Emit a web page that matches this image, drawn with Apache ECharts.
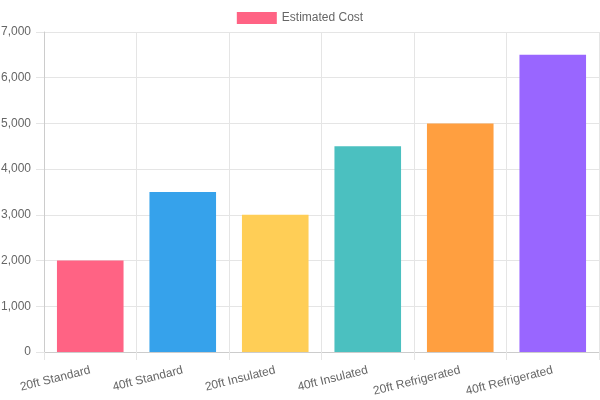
<!DOCTYPE html>
<html>
<head>
<meta charset="utf-8">
<script src="https://cdn.jsdelivr.net/npm/echarts@6/dist/echarts.min.js"></script>
<style>
  html, body { margin: 0; padding: 0; background: #fff; }
  #chart { width: 600px; height: 400px; }
</style>
</head>
<body>
<div id="chart"></div>
<script>
const categories = ['20ft Standard', '40ft Standard', '20ft Insulated', '40ft Insulated', '20ft Refrigerated', '40ft Refrigerated'];
const costValues = [2000, 3500, 3000, 4500, 5000, 6500];
const barColors = ['#ff6384', '#36a2eb', '#ffce56', '#4bc0c0', '#ff9f40', '#9966ff'];
const seriesName = 'Estimated Cost';

const font = '"Liberation Sans", Arial, sans-serif';
const gridColor = '#e5e5e5';

const chart = echarts.init(document.getElementById('chart'));

chart.setOption({
    animation: false,
    textStyle: { fontFamily: font },
    legend: {
        top: 7,
        left: 'center',
        icon: 'rect',
        itemWidth: 40,
        itemHeight: 12,
        itemGap: 10,
        textStyle: { color: '#666', fontSize: 12, fontFamily: font },
        data: [{ name: seriesName, itemStyle: { color: barColors[0] } }]
    },
    grid: { left: 44, right: 1, top: 32, bottom: 48, containLabel: false, outerBoundsMode: 'none' },
    xAxis: {
        type: 'category',
        data: categories,
        axisLine: { lineStyle: { color: '#ccc' } },
        axisTick: { show: true, length: 8, lineStyle: { color: gridColor } },
        splitLine: { show: true, lineStyle: { color: gridColor } },
        axisLabel: { color: '#666', fontSize: 12, rotate: 14, margin: 18, fontFamily: font }
    },
    yAxis: {
        type: 'value',
        min: 0,
        max: 7000,
        interval: 1000,
        axisLine: { show: true, lineStyle: { color: '#ccc' } },
        axisTick: { show: true, length: 8, lineStyle: { color: gridColor } },
        splitLine: { lineStyle: { color: gridColor } },
        axisLabel: {
            color: '#666', fontSize: 12, margin: 13, fontFamily: font,
            formatter: v => v.toLocaleString('en-US')
        }
    },
    series: [{
        name: seriesName,
        type: 'bar',
        barCategoryGap: '28%',
        data: costValues.map((v, i) => ({ value: v, itemStyle: { color: barColors[i] } }))
    }]
});
</script>
</body>
</html>
